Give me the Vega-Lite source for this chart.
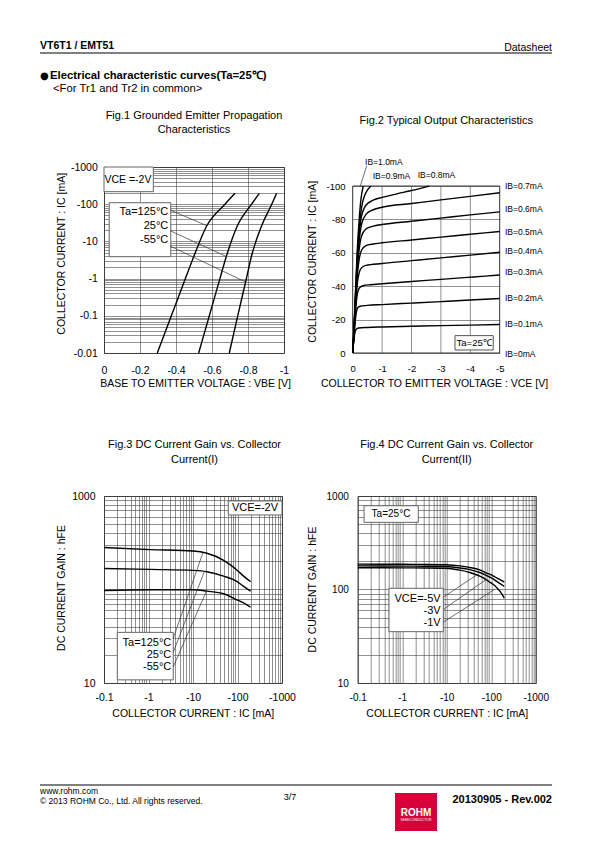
{
  "$schema": "https://vega.github.io/schema/vega-lite/v6.json",
  "padding": 0,
  "autosize": {"type": "pad"},
  "background": "white",
  "spacing": 329,
  "bounds": "flush",
  "align": "none",
  "vconcat": [
    {
      "hconcat": [
        {
          "width": 180,
          "height": 186,
          "title": {"text": ["Fig.1 Grounded Emitter Propagation", "Characteristics"], "offset": 27, "lineHeight": 14.5},
          "layer": [
            {
              "data": {"values": [
                {"ta": "125", "vbe": 0.296, "ic": 0.01}, {"ta": "125", "vbe": 0.374, "ic": 0.1}, {"ta": "125", "vbe": 0.452, "ic": 1}, {"ta": "125", "vbe": 0.502, "ic": 4.31}, {"ta": "125", "vbe": 0.571, "ic": 26.4}, {"ta": "125", "vbe": 0.672, "ic": 100}, {"ta": "125", "vbe": 0.728, "ic": 196},
                {"ta": "25", "vbe": 0.526, "ic": 0.01}, {"ta": "25", "vbe": 0.585, "ic": 0.1}, {"ta": "25", "vbe": 0.644, "ic": 1}, {"ta": "25", "vbe": 0.682, "ic": 4.31}, {"ta": "25", "vbe": 0.741, "ic": 26.4}, {"ta": "25", "vbe": 0.82, "ic": 100}, {"ta": "25", "vbe": 0.863, "ic": 196},
                {"ta": "-55", "vbe": 0.696, "ic": 0.01}, {"ta": "-55", "vbe": 0.743, "ic": 0.1}, {"ta": "-55", "vbe": 0.791, "ic": 1}, {"ta": "-55", "vbe": 0.821, "ic": 4.31}, {"ta": "-55", "vbe": 0.876, "ic": 26.4}, {"ta": "-55", "vbe": 0.932, "ic": 100}, {"ta": "-55", "vbe": 0.959, "ic": 196}
              ]},
              "mark": {"type": "line", "color": "#000", "strokeWidth": 1.4, "interpolate": "monotone"},
              "encoding": {
                "x": {"field": "vbe", "type": "quantitative", "scale": {"domain": [0, 1], "nice": false, "zero": false},
                  "axis": {"values": [0, 0.2, 0.4, 0.6, 0.8, 1], "tickCount": 20, "labelOverlap": false, "labelExpr": "datum.value == 0 ? '0' : '-' + format(datum.value, '~g')", "labelFontSize": 10.5, "labelPadding": 12.5, "title": "BASE TO EMITTER VOLTAGE : VBE [V]", "titleX": 91, "titleY": 25.2}},
                "y": {"field": "ic", "type": "quantitative", "scale": {"type": "log", "domain": [0.01, 1000], "nice": false},
                  "axis": {"values": [0.01, 0.02, 0.03, 0.04, 0.05, 0.06, 0.07, 0.08, 0.09, 0.1, 0.2, 0.3, 0.4, 0.5, 0.6, 0.7, 0.8, 0.9, 1, 2, 3, 4, 5, 6, 7, 8, 9, 10, 20, 30, 40, 50, 60, 70, 80, 90, 100, 200, 300, 400, 500, 600, 700, 800, 900, 1000], "labelOverlap": "greedy",
                    "labelExpr": "indexof([0.01, 0.1, 1, 10, 100, 1000], datum.value) >= 0 ? '-' + format(datum.value, '~g') : ''", "labelFontSize": 10.5, "labelPadding": 6.7, "title": "COLLECTOR CURRENT : IC [mA]", "titleX": -38, "titleY": 86.3}},
                "detail": {"field": "ta", "type": "nominal"}
              }
            },
            {"data": {"values": [{}]}, "mark": {"type": "rect", "fill": "white", "stroke": "#666", "strokeWidth": 1}, "encoding": {"x": {"datum": 0}, "x2": {"datum": 0.274}, "y": {"datum": 1000}, "y2": {"datum": 217}}},
            {"data": {"values": [{"t": "VCE =-2V"}]}, "mark": {"type": "text", "align": "center", "baseline": "middle", "fontSize": 10.5}, "encoding": {"text": {"field": "t"}, "x": {"datum": 0.133}, "y": {"datum": 461}}},
            {"data": {"values": [{}]}, "mark": {"type": "rect", "fill": "white", "stroke": "#666", "strokeWidth": 1}, "encoding": {"x": {"datum": 0.029}, "x2": {"datum": 0.371}, "y": {"datum": 109.6}, "y2": {"datum": 3.88}}},
            {"data": {"values": [{"t": "Ta=125°C"}]}, "mark": {"type": "text", "align": "right", "baseline": "middle", "fontSize": 11}, "encoding": {"text": {"field": "t"}, "x": {"datum": 0.357}, "y": {"datum": 62.8}}},
            {"data": {"values": [{"t": "25°C"}]}, "mark": {"type": "text", "align": "right", "baseline": "middle", "fontSize": 11}, "encoding": {"text": {"field": "t"}, "x": {"datum": 0.357}, "y": {"datum": 26.4}}},
            {"data": {"values": [{"t": "-55°C"}]}, "mark": {"type": "text", "align": "right", "baseline": "middle", "fontSize": 11}, "encoding": {"text": {"field": "t"}, "x": {"datum": 0.357}, "y": {"datum": 10.9}}},
            {"data": {"values": [{}]}, "mark": {"type": "rule", "color": "#333", "strokeWidth": 0.7}, "encoding": {"x": {"datum": 0.367}, "y": {"datum": 69.8}, "x2": {"datum": 0.571}, "y2": {"datum": 26.4}}},
            {"data": {"values": [{}]}, "mark": {"type": "rule", "color": "#333", "strokeWidth": 0.7}, "encoding": {"x": {"datum": 0.367}, "y": {"datum": 19.4}, "x2": {"datum": 0.682}, "y2": {"datum": 3.88}}},
            {"data": {"values": [{}]}, "mark": {"type": "rule", "color": "#333", "strokeWidth": 0.7}, "encoding": {"x": {"datum": 0.367}, "y": {"datum": 7.5}, "x2": {"datum": 0.783}, "y2": {"datum": 0.83}}}
          ]
        },
        {
          "width": 147,
          "height": 186,
          "view": {"stroke": null},
          "title": {"text": "Fig.2 Typical Output Characteristics", "offset": 32, "dx": 20},
          "layer": [
            {"data": {"values": [{"v": 1}, {"v": 2}, {"v": 3}, {"v": 4}]}, "mark": {"type": "rule", "color": "#444", "strokeWidth": 0.6}, "encoding": {"x": {"field": "v", "type": "quantitative"}, "y": {"datum": 0}, "y2": {"datum": 100}}},
            {"data": {"values": [{}]}, "mark": {"type": "rect", "filled": false, "stroke": "#333", "strokeWidth": 1}, "encoding": {"x": {"datum": 0}, "x2": {"datum": 5}, "y": {"datum": 0}, "y2": {"datum": 100}}},
            {
              "data": {"values": [
                {"ib": "0.1", "vce": 0, "ic": 0}, {"ib": "0.1", "vce": 0.04, "ic": 8}, {"ib": "0.1", "vce": 0.08, "ic": 12.5}, {"ib": "0.1", "vce": 0.12, "ic": 14.2}, {"ib": "0.1", "vce": 0.2, "ic": 15}, {"ib": "0.1", "vce": 0.5, "ic": 15.3}, {"ib": "0.1", "vce": 1, "ic": 15.6}, {"ib": "0.1", "vce": 2, "ic": 16}, {"ib": "0.1", "vce": 3, "ic": 16.4}, {"ib": "0.1", "vce": 4, "ic": 16.7}, {"ib": "0.1", "vce": 5, "ic": 17.1},
                {"ib": "0.2", "vce": 0, "ic": 0}, {"ib": "0.2", "vce": 0.04, "ic": 9}, {"ib": "0.2", "vce": 0.08, "ic": 18}, {"ib": "0.2", "vce": 0.12, "ic": 24}, {"ib": "0.2", "vce": 0.16, "ic": 26.8}, {"ib": "0.2", "vce": 0.25, "ic": 28}, {"ib": "0.2", "vce": 0.5, "ic": 28.5}, {"ib": "0.2", "vce": 1, "ic": 29}, {"ib": "0.2", "vce": 2, "ic": 29.9}, {"ib": "0.2", "vce": 3, "ic": 30.8}, {"ib": "0.2", "vce": 4, "ic": 31.7}, {"ib": "0.2", "vce": 5, "ic": 32.6},
                {"ib": "0.3", "vce": 0, "ic": 0}, {"ib": "0.3", "vce": 0.04, "ic": 10}, {"ib": "0.3", "vce": 0.08, "ic": 21}, {"ib": "0.3", "vce": 0.12, "ic": 30}, {"ib": "0.3", "vce": 0.16, "ic": 35.5}, {"ib": "0.3", "vce": 0.22, "ic": 38.8}, {"ib": "0.3", "vce": 0.35, "ic": 40.3}, {"ib": "0.3", "vce": 0.6, "ic": 40.9}, {"ib": "0.3", "vce": 1, "ic": 41.5}, {"ib": "0.3", "vce": 2, "ic": 42.8}, {"ib": "0.3", "vce": 3, "ic": 44.1}, {"ib": "0.3", "vce": 4, "ic": 45.4}, {"ib": "0.3", "vce": 5, "ic": 46.7},
                {"ib": "0.4", "vce": 0, "ic": 0}, {"ib": "0.4", "vce": 0.04, "ic": 10.5}, {"ib": "0.4", "vce": 0.08, "ic": 23}, {"ib": "0.4", "vce": 0.12, "ic": 34}, {"ib": "0.4", "vce": 0.16, "ic": 42}, {"ib": "0.4", "vce": 0.22, "ic": 48}, {"ib": "0.4", "vce": 0.3, "ic": 51}, {"ib": "0.4", "vce": 0.45, "ic": 52.5}, {"ib": "0.4", "vce": 1, "ic": 53.6}, {"ib": "0.4", "vce": 2, "ic": 55.3}, {"ib": "0.4", "vce": 3, "ic": 57}, {"ib": "0.4", "vce": 4, "ic": 58.6}, {"ib": "0.4", "vce": 5, "ic": 60.3},
                {"ib": "0.5", "vce": 0, "ic": 0}, {"ib": "0.5", "vce": 0.04, "ic": 11}, {"ib": "0.5", "vce": 0.08, "ic": 25}, {"ib": "0.5", "vce": 0.12, "ic": 37}, {"ib": "0.5", "vce": 0.16, "ic": 47}, {"ib": "0.5", "vce": 0.22, "ic": 56}, {"ib": "0.5", "vce": 0.3, "ic": 61.5}, {"ib": "0.5", "vce": 0.45, "ic": 64.3}, {"ib": "0.5", "vce": 0.7, "ic": 65.3}, {"ib": "0.5", "vce": 1, "ic": 66}, {"ib": "0.5", "vce": 2, "ic": 67.7}, {"ib": "0.5", "vce": 3, "ic": 69.4}, {"ib": "0.5", "vce": 4, "ic": 71.1}, {"ib": "0.5", "vce": 5, "ic": 72.8},
                {"ib": "0.6", "vce": 0, "ic": 0}, {"ib": "0.6", "vce": 0.04, "ic": 11.5}, {"ib": "0.6", "vce": 0.08, "ic": 26}, {"ib": "0.6", "vce": 0.12, "ic": 39.5}, {"ib": "0.6", "vce": 0.16, "ic": 51}, {"ib": "0.6", "vce": 0.22, "ic": 62}, {"ib": "0.6", "vce": 0.3, "ic": 70}, {"ib": "0.6", "vce": 0.45, "ic": 74.3}, {"ib": "0.6", "vce": 0.7, "ic": 76}, {"ib": "0.6", "vce": 1, "ic": 77}, {"ib": "0.6", "vce": 2, "ic": 78.9}, {"ib": "0.6", "vce": 3, "ic": 80.8}, {"ib": "0.6", "vce": 4, "ic": 82.7}, {"ib": "0.6", "vce": 5, "ic": 84.5},
                {"ib": "0.7", "vce": 0, "ic": 0}, {"ib": "0.7", "vce": 0.04, "ic": 12}, {"ib": "0.7", "vce": 0.08, "ic": 27}, {"ib": "0.7", "vce": 0.12, "ic": 41}, {"ib": "0.7", "vce": 0.16, "ic": 54}, {"ib": "0.7", "vce": 0.22, "ic": 67}, {"ib": "0.7", "vce": 0.3, "ic": 77}, {"ib": "0.7", "vce": 0.45, "ic": 83}, {"ib": "0.7", "vce": 0.7, "ic": 85.8}, {"ib": "0.7", "vce": 1, "ic": 87.3}, {"ib": "0.7", "vce": 2, "ic": 89.5}, {"ib": "0.7", "vce": 3, "ic": 91.7}, {"ib": "0.7", "vce": 4, "ic": 93.8}, {"ib": "0.7", "vce": 5, "ic": 96},
                {"ib": "0.8", "vce": 0, "ic": 0}, {"ib": "0.8", "vce": 0.04, "ic": 12.5}, {"ib": "0.8", "vce": 0.08, "ic": 28}, {"ib": "0.8", "vce": 0.12, "ic": 43}, {"ib": "0.8", "vce": 0.16, "ic": 57}, {"ib": "0.8", "vce": 0.22, "ic": 71}, {"ib": "0.8", "vce": 0.3, "ic": 82}, {"ib": "0.8", "vce": 0.45, "ic": 88.5}, {"ib": "0.8", "vce": 0.7, "ic": 91.5}, {"ib": "0.8", "vce": 1, "ic": 93.2}, {"ib": "0.8", "vce": 1.5, "ic": 95.3}, {"ib": "0.8", "vce": 2, "ic": 97.3}, {"ib": "0.8", "vce": 2.6, "ic": 100},
                {"ib": "0.9", "vce": 0, "ic": 0}, {"ib": "0.9", "vce": 0.04, "ic": 13}, {"ib": "0.9", "vce": 0.08, "ic": 29}, {"ib": "0.9", "vce": 0.12, "ic": 45}, {"ib": "0.9", "vce": 0.16, "ic": 60}, {"ib": "0.9", "vce": 0.22, "ic": 75}, {"ib": "0.9", "vce": 0.3, "ic": 87}, {"ib": "0.9", "vce": 0.4, "ic": 94}, {"ib": "0.9", "vce": 0.5, "ic": 97.5}, {"ib": "0.9", "vce": 0.62, "ic": 100},
                {"ib": "1.0", "vce": 0, "ic": 0}, {"ib": "1.0", "vce": 0.04, "ic": 13.5}, {"ib": "1.0", "vce": 0.08, "ic": 30}, {"ib": "1.0", "vce": 0.12, "ic": 47}, {"ib": "1.0", "vce": 0.16, "ic": 63}, {"ib": "1.0", "vce": 0.22, "ic": 80}, {"ib": "1.0", "vce": 0.28, "ic": 92}, {"ib": "1.0", "vce": 0.36, "ic": 100}
              ]},
              "mark": {"type": "line", "color": "#000", "strokeWidth": 1.4, "interpolate": "monotone"},
              "encoding": {
                "x": {"field": "vce", "type": "quantitative", "scale": {"domain": [0, 5], "nice": false, "zero": false},
                  "axis": {"values": [0, 1, 2, 3, 4, 5], "tickCount": 20, "grid": false, "labelOverlap": false, "labelExpr": "datum.value == 0 ? '0' : '-' + format(datum.value, 'd')", "labelFontSize": 9.5, "labelPadding": 10.2, "title": "COLLECTOR TO EMITTER VOLTAGE : VCE [V]", "titleX": 81.3, "titleY": 25.8}},
                "y": {"field": "ic", "type": "quantitative", "scale": {"domain": [0, 111.4], "nice": false, "zero": false},
                  "axis": {"values": [0, 20, 40, 60, 80, 100], "tickCount": 20, "labelOverlap": false, "labelExpr": "datum.value == 0 ? '0' : '-' + format(datum.value, 'd')", "labelFontSize": 9.5, "labelPadding": 7.7, "title": "COLLECTOR CURRENT : IC [mA]", "titleX": -35, "titleY": 94.3}},
                "detail": {"field": "ib", "type": "nominal"}
              }
            },
            {"data": {"values": [{}]}, "mark": {"type": "rect", "fill": "white", "stroke": "#555", "strokeWidth": 1}, "encoding": {"x": {"datum": 3.48}, "x2": {"datum": 4.78}, "y": {"datum": 1.8}, "y2": {"datum": 10.4}}},
            {"data": {"values": [{"t": "Ta=25℃"}]}, "mark": {"type": "text", "align": "center", "baseline": "middle", "fontSize": 9.5}, "encoding": {"text": {"field": "t"}, "x": {"datum": 4.13}, "y": {"datum": 6.0}}},
            {"data": {"values": [
                {"lab": "IB=0.7mA", "ic": 100}, {"lab": "IB=0.6mA", "ic": 86.1}, {"lab": "IB=0.5mA", "ic": 72.6}, {"lab": "IB=0.4mA", "ic": 61.1},
                {"lab": "IB=0.3mA", "ic": 48.7}, {"lab": "IB=0.2mA", "ic": 33.1}, {"lab": "IB=0.1mA", "ic": 17.4}, {"lab": "IB=0mA", "ic": -0.8}
              ]},
              "mark": {"type": "text", "align": "left", "baseline": "middle", "fontSize": 8.5},
              "encoding": {"text": {"field": "lab"}, "x": {"datum": 5.18}, "y": {"field": "ic", "type": "quantitative"}}},
            {"data": {"values": [{"t": "IB=1.0mA"}]}, "mark": {"type": "text", "align": "left", "baseline": "middle", "fontSize": 8.5}, "encoding": {"text": {"field": "t"}, "x": {"datum": 0.42}, "y": {"datum": 114.6}}},
            {"data": {"values": [{"t": "IB=0.9mA"}]}, "mark": {"type": "text", "align": "left", "baseline": "middle", "fontSize": 8.5}, "encoding": {"text": {"field": "t"}, "x": {"datum": 0.68}, "y": {"datum": 106.2}}},
            {"data": {"values": [{"t": "IB=0.8mA"}]}, "mark": {"type": "text", "align": "left", "baseline": "middle", "fontSize": 8.5}, "encoding": {"text": {"field": "t"}, "x": {"datum": 2.21}, "y": {"datum": 106.6}}},
            {"data": {"values": [{}]}, "mark": {"type": "rule", "color": "#333", "strokeWidth": 0.7}, "encoding": {"x": {"datum": 0.476}, "y": {"datum": 112}, "x2": {"datum": 0.25}, "y2": {"datum": 99.6}}}
          ]
        }
      ],
      "spacing": 68.7,
      "bounds": "flush"
    },
    {
      "hconcat": [
        {
          "width": 178,
          "height": 187,
          "title": {"text": ["Fig.3 DC Current Gain vs. Collector", "Current(I)"], "offset": 25.8, "lineHeight": 15, "dx": 1.5},
          "layer": [
            {
              "data": {"values": [
                {"ta": "125", "ic": 0.1, "hfe": 281}, {"ta": "125", "ic": 1.1, "hfe": 267}, {"ta": "125", "ic": 10, "hfe": 258}, {"ta": "125", "ic": 20.6, "hfe": 244}, {"ta": "125", "ic": 48.8, "hfe": 205}, {"ta": "125", "ic": 94, "hfe": 164}, {"ta": "125", "ic": 137, "hfe": 139}, {"ta": "125", "ic": 197, "hfe": 121},
                {"ta": "25", "ic": 0.1, "hfe": 168}, {"ta": "25", "ic": 1.1, "hfe": 164}, {"ta": "25", "ic": 10, "hfe": 160}, {"ta": "25", "ic": 20.6, "hfe": 155}, {"ta": "25", "ic": 48.8, "hfe": 139}, {"ta": "25", "ic": 94, "hfe": 123}, {"ta": "25", "ic": 137, "hfe": 108}, {"ta": "25", "ic": 197, "hfe": 96},
                {"ta": "-55", "ic": 0.1, "hfe": 97.5}, {"ta": "-55", "ic": 1.1, "hfe": 99.3}, {"ta": "-55", "ic": 10, "hfe": 99.3}, {"ta": "-55", "ic": 20.6, "hfe": 96}, {"ta": "-55", "ic": 48.8, "hfe": 90}, {"ta": "-55", "ic": 94, "hfe": 78}, {"ta": "-55", "ic": 137, "hfe": 72}, {"ta": "-55", "ic": 197, "hfe": 64.6}
              ]},
              "mark": {"type": "line", "color": "#000", "strokeWidth": 1.4, "interpolate": "monotone"},
              "encoding": {
                "x": {"field": "ic", "type": "quantitative", "scale": {"type": "log", "domain": [0.1, 1000], "nice": false},
                  "axis": {"values": [0.1, 0.2, 0.3, 0.4, 0.5, 0.6, 0.7, 0.8, 0.9, 1, 2, 3, 4, 5, 6, 7, 8, 9, 10, 20, 30, 40, 50, 60, 70, 80, 90, 100, 200, 300, 400, 500, 600, 700, 800, 900, 1000], "labelOverlap": "greedy",
                    "labelExpr": "indexof([0.1, 1, 10, 100, 1000], datum.value) >= 0 ? '-' + format(datum.value, '~g') : ''", "labelFontSize": 10.5, "labelPadding": 9.2, "title": "COLLECTOR CURRENT : IC [mA]", "titleX": 88.7, "titleY": 25.8}},
                "y": {"field": "hfe", "type": "quantitative", "scale": {"type": "log", "domain": [10, 1000], "nice": false},
                  "axis": {"values": [10, 20, 30, 40, 50, 60, 70, 80, 90, 100, 200, 300, 400, 500, 600, 700, 800, 900, 1000], "labelOverlap": "greedy",
                    "labelExpr": "indexof([10, 1000], datum.value) >= 0 ? format(datum.value, 'd') : ''", "labelFontSize": 10.5, "labelPadding": 9, "title": "DC CURRENT GAIN : hFE", "titleX": -37.7, "titleY": 91.5}},
                "detail": {"field": "ta", "type": "nominal"}
              }
            },
            {"data": {"values": [{}]}, "mark": {"type": "rect", "fill": "white", "stroke": "#666", "strokeWidth": 1}, "encoding": {"x": {"datum": 62}, "x2": {"datum": 1000}, "y": {"datum": 885}, "y2": {"datum": 627}}},
            {"data": {"values": [{"t": "VCE=-2V"}]}, "mark": {"type": "text", "align": "center", "baseline": "middle", "fontSize": 11}, "encoding": {"text": {"field": "t"}, "x": {"datum": 247}, "y": {"datum": 745}}},
            {"data": {"values": [{}]}, "mark": {"type": "rect", "fill": "white", "stroke": "#666", "strokeWidth": 1}, "encoding": {"x": {"datum": 0.199}, "x2": {"datum": 3.6}, "y": {"datum": 34.8}, "y2": {"datum": 10.8}}},
            {"data": {"values": [{"t": "Ta=125°C"}]}, "mark": {"type": "text", "align": "right", "baseline": "middle", "fontSize": 11}, "encoding": {"text": {"field": "t"}, "x": {"datum": 3.25}, "y": {"datum": 27}}},
            {"data": {"values": [{"t": "25°C"}]}, "mark": {"type": "text", "align": "right", "baseline": "middle", "fontSize": 11}, "encoding": {"text": {"field": "t"}, "x": {"datum": 3.25}, "y": {"datum": 19.9}}},
            {"data": {"values": [{"t": "-55°C"}]}, "mark": {"type": "text", "align": "right", "baseline": "middle", "fontSize": 11}, "encoding": {"text": {"field": "t"}, "x": {"datum": 3.25}, "y": {"datum": 14.7}}},
            {"data": {"values": [{}]}, "mark": {"type": "rule", "color": "#333", "strokeWidth": 0.7}, "encoding": {"x": {"datum": 3.6}, "y": {"datum": 30}, "x2": {"datum": 16.5}, "y2": {"datum": 244}}},
            {"data": {"values": [{}]}, "mark": {"type": "rule", "color": "#333", "strokeWidth": 0.7}, "encoding": {"x": {"datum": 3.6}, "y": {"datum": 21.3}, "x2": {"datum": 18.2}, "y2": {"datum": 158}}},
            {"data": {"values": [{}]}, "mark": {"type": "rule", "color": "#333", "strokeWidth": 0.7}, "encoding": {"x": {"datum": 3.6}, "y": {"datum": 14.9}, "x2": {"datum": 20}, "y2": {"datum": 96}}}
          ]
        },
        {
          "width": 178,
          "height": 187,
          "title": {"text": ["Fig.4 DC Current Gain vs. Collector", "Current(II)"], "offset": 25.8, "lineHeight": 15},
          "layer": [
            {
              "data": {"values": [
                {"vce": "-5V", "ic": 0.1, "hfe": 187}, {"vce": "-5V", "ic": 1, "hfe": 186}, {"vce": "-5V", "ic": 3, "hfe": 185.5}, {"vce": "-5V", "ic": 9.2, "hfe": 184}, {"vce": "-5V", "ic": 20, "hfe": 179}, {"vce": "-5V", "ic": 33, "hfe": 172}, {"vce": "-5V", "ic": 55, "hfe": 162}, {"vce": "-5V", "ic": 79, "hfe": 150}, {"vce": "-5V", "ic": 110, "hfe": 140}, {"vce": "-5V", "ic": 133, "hfe": 133}, {"vce": "-5V", "ic": 165, "hfe": 126}, {"vce": "-5V", "ic": 197, "hfe": 120},
                {"vce": "-3V", "ic": 0.1, "hfe": 179}, {"vce": "-3V", "ic": 1, "hfe": 178}, {"vce": "-3V", "ic": 3, "hfe": 177.5}, {"vce": "-3V", "ic": 9.2, "hfe": 176}, {"vce": "-3V", "ic": 20, "hfe": 170}, {"vce": "-3V", "ic": 33, "hfe": 163}, {"vce": "-3V", "ic": 55, "hfe": 152}, {"vce": "-3V", "ic": 79, "hfe": 141}, {"vce": "-3V", "ic": 110, "hfe": 130}, {"vce": "-3V", "ic": 133, "hfe": 122}, {"vce": "-3V", "ic": 165, "hfe": 114}, {"vce": "-3V", "ic": 197, "hfe": 108},
                {"vce": "-1V", "ic": 0.1, "hfe": 171}, {"vce": "-1V", "ic": 1, "hfe": 170.5}, {"vce": "-1V", "ic": 3, "hfe": 170}, {"vce": "-1V", "ic": 9.2, "hfe": 169}, {"vce": "-1V", "ic": 20, "hfe": 161}, {"vce": "-1V", "ic": 33, "hfe": 152}, {"vce": "-1V", "ic": 50, "hfe": 142}, {"vce": "-1V", "ic": 66.5, "hfe": 133}, {"vce": "-1V", "ic": 90, "hfe": 121}, {"vce": "-1V", "ic": 112, "hfe": 113}, {"vce": "-1V", "ic": 135, "hfe": 104}, {"vce": "-1V", "ic": 158, "hfe": 95.5}, {"vce": "-1V", "ic": 180, "hfe": 87}, {"vce": "-1V", "ic": 197, "hfe": 81}
              ]},
              "mark": {"type": "line", "color": "#000", "strokeWidth": 1.4, "interpolate": "monotone"},
              "encoding": {
                "x": {"field": "ic", "type": "quantitative", "scale": {"type": "log", "domain": [0.1, 1000], "nice": false},
                  "axis": {"values": [0.1, 0.2, 0.3, 0.4, 0.5, 0.6, 0.7, 0.8, 0.9, 1, 2, 3, 4, 5, 6, 7, 8, 9, 10, 20, 30, 40, 50, 60, 70, 80, 90, 100, 200, 300, 400, 500, 600, 700, 800, 900, 1000], "labelOverlap": "greedy",
                    "labelExpr": "indexof([0.1, 1, 10, 100, 1000], datum.value) >= 0 ? '-' + format(datum.value, '~g') : ''", "labelFontSize": 10, "labelPadding": 9.4, "title": "COLLECTOR CURRENT : IC [mA]", "titleX": 89, "titleY": 25.8}},
                "y": {"field": "hfe", "type": "quantitative", "scale": {"type": "log", "domain": [10, 1000], "nice": false},
                  "axis": {"values": [10, 20, 30, 40, 50, 60, 70, 80, 90, 100, 200, 300, 400, 500, 600, 700, 800, 900, 1000], "labelOverlap": "greedy",
                    "labelExpr": "indexof([10, 100, 1000], datum.value) >= 0 ? format(datum.value, 'd') : ''", "labelFontSize": 10, "labelPadding": 9.4, "title": "DC CURRENT GAIN : hFE", "titleX": -40, "titleY": 93}},
                "detail": {"field": "vce", "type": "nominal"}
              }
            },
            {"data": {"values": [{}]}, "mark": {"type": "rect", "fill": "white", "stroke": "#666", "strokeWidth": 1}, "encoding": {"x": {"datum": 0.139}, "x2": {"datum": 2.3}, "y": {"datum": 787}, "y2": {"datum": 523}}},
            {"data": {"values": [{"t": "Ta=25°C"}]}, "mark": {"type": "text", "align": "center", "baseline": "middle", "fontSize": 10}, "encoding": {"text": {"field": "t"}, "x": {"datum": 0.56}, "y": {"datum": 641}}},
            {"data": {"values": [{}]}, "mark": {"type": "rect", "fill": "white", "stroke": "#666", "strokeWidth": 1}, "encoding": {"x": {"datum": 0.505}, "x2": {"datum": 8.4}, "y": {"datum": 103}, "y2": {"datum": 35.4}}},
            {"data": {"values": [{"t": "VCE=-5V"}]}, "mark": {"type": "text", "align": "right", "baseline": "middle", "fontSize": 11}, "encoding": {"text": {"field": "t"}, "x": {"datum": 7.33}, "y": {"datum": 79}}},
            {"data": {"values": [{"t": "-3V"}]}, "mark": {"type": "text", "align": "right", "baseline": "middle", "fontSize": 11}, "encoding": {"text": {"field": "t"}, "x": {"datum": 7.33}, "y": {"datum": 59.3}}},
            {"data": {"values": [{"t": "-1V"}]}, "mark": {"type": "text", "align": "right", "baseline": "middle", "fontSize": 11}, "encoding": {"text": {"field": "t"}, "x": {"datum": 7.33}, "y": {"datum": 43.5}}},
            {"data": {"values": [{}]}, "mark": {"type": "rule", "color": "#333", "strokeWidth": 0.7}, "encoding": {"x": {"datum": 8.7}, "y": {"datum": 83.7}, "x2": {"datum": 47}, "y2": {"datum": 143}}},
            {"data": {"values": [{}]}, "mark": {"type": "rule", "color": "#333", "strokeWidth": 0.7}, "encoding": {"x": {"datum": 8.7}, "y": {"datum": 61.8}, "x2": {"datum": 79}, "y2": {"datum": 129}}},
            {"data": {"values": [{}]}, "mark": {"type": "rule", "color": "#333", "strokeWidth": 0.7}, "encoding": {"x": {"datum": 8.7}, "y": {"datum": 45.3}, "x2": {"datum": 122}, "y2": {"datum": 101}}}
          ]
        }
      ],
      "spacing": 75.7,
      "bounds": "flush"
    },
    {
      "width": 1,
      "height": 1,
      "view": {"stroke": null},
      "layer": [
        {"data": {"values": [{}]}, "mark": {"type": "rect", "opacity": 0}, "encoding": {"x": {"value": -104}, "x2": {"value": 491}, "y": {"value": -825}, "y2": {"value": 17}}},
        {"data": {"values": [{"t": "VT6T1 / EMT51"}]}, "mark": {"type": "text", "align": "left", "baseline": "alphabetic", "fontSize": 10.5, "fontWeight": "bold"}, "encoding": {"text": {"field": "t"}, "x": {"value": -64}, "y": {"value": -776.4}}},
        {"data": {"values": [{"t": "Datasheet"}]}, "mark": {"type": "text", "align": "right", "baseline": "alphabetic", "fontSize": 10.5}, "encoding": {"text": {"field": "t"}, "x": {"value": 448}, "y": {"value": -774.5}}},
        {"data": {"values": [{}]}, "mark": {"type": "rule", "color": "#000", "strokeWidth": 1}, "encoding": {"x": {"value": -64}, "x2": {"value": 448}, "y": {"value": -772}}},
        {"data": {"values": [{"t": "●"}]}, "mark": {"type": "text", "align": "left", "baseline": "alphabetic", "fontSize": 10, "font": "DejaVu Sans"}, "encoding": {"text": {"field": "t"}, "x": {"value": -64}, "y": {"value": -746}}},
        {"data": {"values": [{"t": "Electrical characteristic curves(Ta=25℃)"}]}, "mark": {"type": "text", "align": "left", "baseline": "alphabetic", "fontSize": 11.3, "fontWeight": "bold"}, "encoding": {"text": {"field": "t"}, "x": {"value": -54}, "y": {"value": -746}}},
        {"data": {"values": [{"t": "<For Tr1 and Tr2 in common>"}]}, "mark": {"type": "text", "align": "left", "baseline": "alphabetic", "fontSize": 11.3}, "encoding": {"text": {"field": "t"}, "x": {"value": -51}, "y": {"value": -733.5}}},
        {"data": {"values": [{}]}, "mark": {"type": "rule", "color": "#000", "strokeWidth": 1}, "encoding": {"x": {"value": -64}, "x2": {"value": 448}, "y": {"value": -40}}},
        {"data": {"values": [{"t": "www.rohm.com"}]}, "mark": {"type": "text", "align": "left", "baseline": "alphabetic", "fontSize": 8.5}, "encoding": {"text": {"field": "t"}, "x": {"value": -64}, "y": {"value": -31}}},
        {"data": {"values": [{"t": "© 2013 ROHM Co., Ltd. All rights reserved."}]}, "mark": {"type": "text", "align": "left", "baseline": "alphabetic", "fontSize": 8.5}, "encoding": {"text": {"field": "t"}, "x": {"value": -64}, "y": {"value": -21}}},
        {"data": {"values": [{"t": "3/7"}]}, "mark": {"type": "text", "align": "center", "baseline": "alphabetic", "fontSize": 9}, "encoding": {"text": {"field": "t"}, "x": {"value": 186}, "y": {"value": -25}}},
        {"data": {"values": [{}]}, "mark": {"type": "rect", "fill": "#d7003a"}, "encoding": {"x": {"value": 291}, "x2": {"value": 333}, "y": {"value": -32}, "y2": {"value": 6}}},
        {"data": {"values": [{"t": "ROHM"}]}, "mark": {"type": "text", "align": "center", "baseline": "alphabetic", "fontSize": 10, "fontWeight": "bold", "color": "white"}, "encoding": {"text": {"field": "t"}, "x": {"value": 312}, "y": {"value": -9.5}}},
        {"data": {"values": [{"t": "SEMICONDUCTOR"}]}, "mark": {"type": "text", "align": "center", "baseline": "alphabetic", "fontSize": 3.5, "color": "white"}, "encoding": {"text": {"field": "t"}, "x": {"value": 312}, "y": {"value": -4}}},
        {"data": {"values": [{"t": "20130905 - Rev.002"}]}, "mark": {"type": "text", "align": "right", "baseline": "alphabetic", "fontSize": 11, "fontWeight": "bold"}, "encoding": {"text": {"field": "t"}, "x": {"value": 448}, "y": {"value": -22}}}
      ]
    }
  ],
  "config": {
    "font": "Liberation Sans",
    "view": {"stroke": "#333", "strokeWidth": 1},
    "axis": {"ticks": false, "tickSize": 0, "domain": false, "grid": true, "gridColor": "#444", "gridWidth": 0.6, "gridOpacity": 1, "labelColor": "#000", "titleColor": "#000", "titleFontWeight": "normal", "titleFontSize": 10.5, "labelFlush": false, "labelOverlap": "greedy", "labelFont": "Liberation Sans", "titleFont": "Liberation Sans"},
    "title": {"font": "Liberation Sans", "fontSize": 11, "fontWeight": "normal", "color": "#000", "anchor": "middle", "frame": "group"},
    "text": {"font": "Liberation Sans", "color": "#000"}
  }
}
